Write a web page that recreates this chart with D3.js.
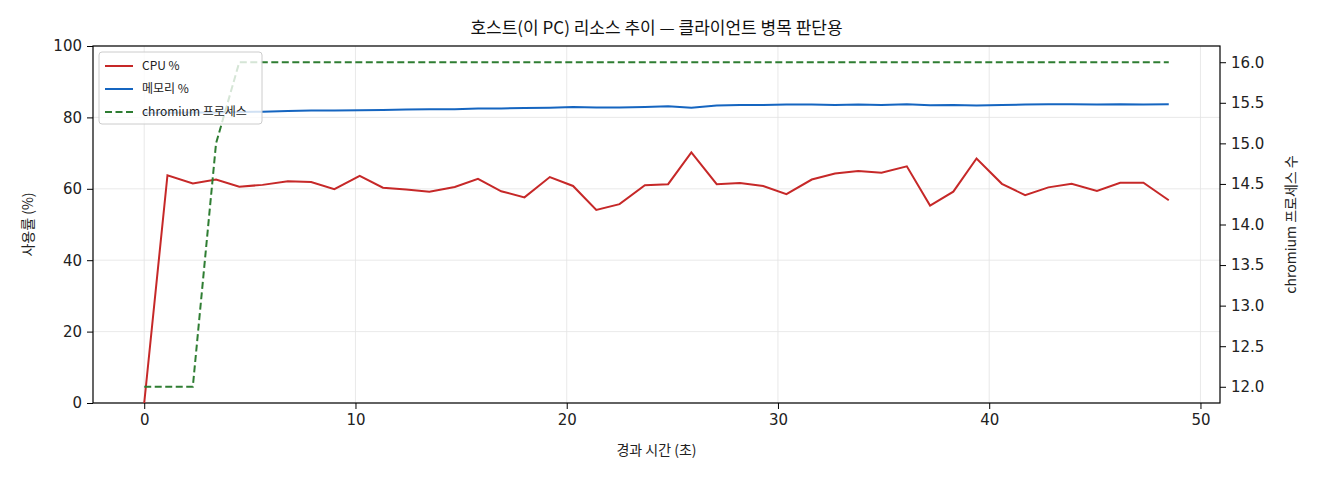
<!DOCTYPE html>
<html><head><meta charset="utf-8">
<script src="https://cdn.jsdelivr.net/npm/d3@7"></script>
<style>
body{margin:0;background:#fff;font-family:"Noto Sans CJK KR","DejaVu Sans",sans-serif;}
</style></head><body><svg id="chart" width="1320" height="480"></svg>
<script>
const times = [0,1.1,2.3,3.4,4.5,5.6,6.8,7.9,9.0,10.2,11.3,12.4,13.5,14.7,15.8,16.9,18.0,19.2,20.3,21.4,22.5,23.7,24.8,25.9,27.1,28.2,29.3,30.4,31.6,32.7,33.8,34.9,36.1,37.2,38.3,39.4,40.6,41.7,42.8,43.9,45.1,46.2,47.3,48.5];
const cpu = [0,63.8,61.5,62.6,60.6,61.1,62.1,61.9,59.9,63.6,60.3,59.8,59.2,60.5,62.8,59.3,57.6,63.3,60.8,54.1,55.7,61.0,61.3,70.2,61.3,61.6,60.8,58.5,62.6,64.3,65.0,64.5,66.3,55.3,59.2,68.5,61.4,58.2,60.4,61.4,59.4,61.7,61.7,56.8];
const mem = [81.2,81.3,81.4,81.4,81.5,81.6,81.8,81.9,81.9,82.0,82.1,82.2,82.3,82.3,82.5,82.5,82.6,82.7,82.9,82.8,82.8,82.9,83.1,82.7,83.3,83.5,83.5,83.6,83.6,83.5,83.6,83.5,83.7,83.4,83.5,83.3,83.5,83.6,83.7,83.7,83.6,83.7,83.6,83.7];
const procs = [12,12,12,15,16,16,16,16,16,16,16,16,16,16,16,16,16,16,16,16,16,16,16,16,16,16,16,16,16,16,16,16,16,16,16,16,16,16,16,16,16,16,16,16];
const xTicks = [0,10,20,30,40,50];
const yTicks = [0,20,40,60,80,100];
const y2Ticks = [12,12.5,13,13.5,14,14.5,15,15.5,16];

const svg = d3.select("#chart");
const m = {l:93, r:1220, t:46, b:403};
const x = d3.scaleLinear().domain([-2.425, 50.925]).range([m.l, m.r]);
const y = d3.scaleLinear().domain([0, 100]).range([m.b, m.t]);
const y2 = d3.scaleLinear().domain([11.8, 16.2]).range([m.b, m.t]);

// grid
svg.append("g").selectAll("line").data(xTicks).join("line")
    .attr("x1", d => x(d)).attr("x2", d => x(d)).attr("y1", m.t).attr("y2", m.b)
    .attr("stroke", "#e3e3e3").attr("stroke-width", 0.8);
svg.append("g").selectAll("line").data(yTicks).join("line")
    .attr("x1", m.l).attr("x2", m.r).attr("y1", d => y(d)).attr("y2", d => y(d))
    .attr("stroke", "#e3e3e3").attr("stroke-width", 0.8);

const font = g => g.selectAll("text").attr("font-size", 15).attr("fill", "#222")
    .attr("font-family", "'DejaVu Sans',sans-serif");
svg.append("g").attr("transform", `translate(0,${m.b})`)
    .call(d3.axisBottom(x).tickValues(xTicks).tickSizeOuter(0).tickPadding(5)).call(font);
svg.append("g").attr("transform", `translate(${m.l},0)`)
    .call(d3.axisLeft(y).tickValues(yTicks).tickSizeOuter(0).tickPadding(5)).call(font);
svg.append("g").attr("transform", `translate(${m.r},0)`)
    .call(d3.axisRight(y2).tickValues(y2Ticks).tickFormat(d3.format(".1f")).tickSizeOuter(0).tickPadding(5)).call(font);
svg.selectAll(".domain").remove();
svg.append("rect").attr("x", m.l).attr("y", m.t).attr("width", m.r - m.l).attr("height", m.b - m.t)
    .attr("fill", "none").attr("stroke", "#000").attr("stroke-width", 1.2);

const line = (ys) => d3.line().x((d, i) => x(times[i])).y(d => ys(d));
svg.append("path").datum(cpu).attr("d", line(y)).attr("fill", "none").attr("stroke", "#c62828").attr("stroke-width", 2);
svg.append("path").datum(mem).attr("d", line(y)).attr("fill", "none").attr("stroke", "#1565c0").attr("stroke-width", 2);
svg.append("path").datum(procs).attr("d", line(y2)).attr("fill", "none").attr("stroke", "#2e7d32")
    .attr("stroke-width", 2).attr("stroke-dasharray", "7,3.5");

// legend
const lg = svg.append("g").attr("transform", "translate(99,52)");
lg.append("rect").attr("width", 163).attr("height", 72).attr("rx", 3)
    .attr("fill", "rgba(255,255,255,0.8)").attr("stroke", "#ccc");
const items = [["CPU %", "#c62828", null], ["메모리 %", "#1565c0", null], ["chromium 프로세스", "#2e7d32", "7,3.5"]];
items.forEach((it, i) => {
    const yy = 14 + i * 23;
    lg.append("line").attr("x1", 6).attr("x2", 34).attr("y1", yy).attr("y2", yy)
        .attr("stroke", it[1]).attr("stroke-width", 2).attr("stroke-dasharray", it[2]);
    lg.append("text").attr("x", 43).attr("y", yy + 4).attr("font-size", 12).attr("fill", "#222").text(it[0]);
});

svg.append("text").attr("x", (m.l + m.r) / 2).attr("y", 34).attr("text-anchor", "middle")
    .attr("font-size", 17).attr("fill", "#111").text("호스트(이 PC) 리소스 추이 — 클라이언트 병목 판단용");
svg.append("text").attr("x", (m.l + m.r) / 2).attr("y", 455).attr("text-anchor", "middle")
    .attr("font-size", 14).attr("fill", "#222").text("경과 시간 (초)");
svg.append("text").attr("transform", `translate(33,${(m.t + m.b) / 2}) rotate(-90)`).attr("text-anchor", "middle")
    .attr("font-size", 14).attr("fill", "#222").text("사용률 (%)");
svg.append("text").attr("transform", `translate(1296,${(m.t + m.b) / 2}) rotate(-90)`).attr("text-anchor", "middle")
    .attr("font-size", 14).attr("fill", "#222").text("chromium 프로세스 수");
</script></body></html>
